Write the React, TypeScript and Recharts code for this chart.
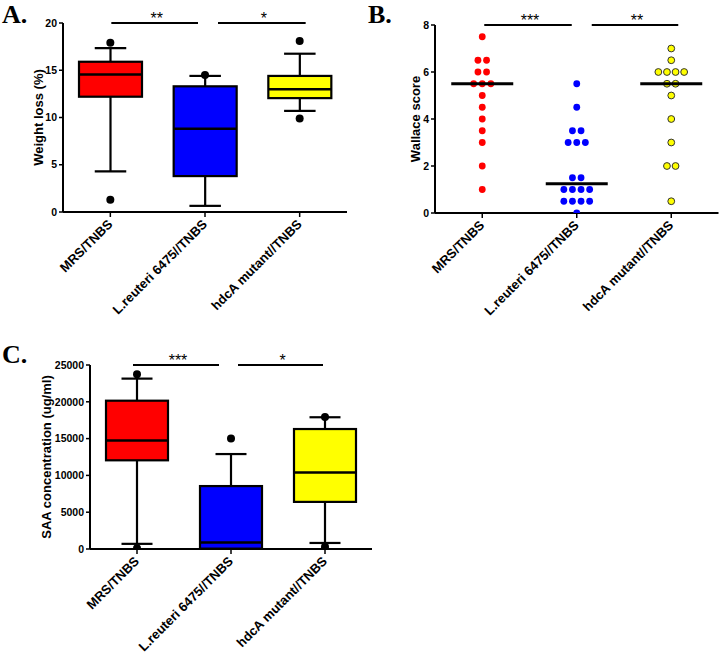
import {
  Bar,
  ComposedChart,
  ReferenceLine,
  Scatter,
  ScatterChart,
  XAxis,
  YAxis,
} from 'recharts';

const SANS = '"Liberation Sans", Arial, sans-serif';
const SERIF = '"Liberation Serif", "Times New Roman", serif';

const groups = ['MRS/TNBS', 'L.reuteri 6475//TNBS', 'hdcA mutant//TNBS'];
const groupColors = ['#ff0000', '#0000ff', '#ffff00'];

// A. weight loss (%) - box plot stats per group
const weightLow = [4.3, 0.65, 10.7];
const weightQ1 = [12.2, 3.8, 12.05];
const weightMedian = [14.55, 8.8, 13.0];
const weightQ3 = [15.9, 13.3, 14.4];
const weightHigh = [17.35, 14.4, 16.75];
const weightOutHigh = [17.9, 14.5, 18.1];
const weightOutLow = [1.3, null, 9.9];
const weightTicks = [0, 5, 10, 15, 20];

// B. Wallace score - individual animals
const wallaceMRS = [7.5, 6.5, 6.5, 6, 6, 5.5, 5.5, 5.5, 5, 4.5, 4, 3.5, 3, 2, 1];
const wallaceReuteri = [5.5, 4.5, 3.5, 3.5, 3, 3, 3, 1.5, 1.5, 1, 1, 1, 1, 0.5, 0.5, 0.5, 0.5, 0];
const wallaceMutant = [7, 6.5, 6, 6, 6, 6, 5.5, 5.5, 5, 4, 3, 2, 2, 0.5];
const wallaceMedians = [5.5, 1.25, 5.5];
const wallaceTicks = [0, 2, 4, 6, 8];

// C. SAA concentration (ug/ml)
const saaLow = [700, 0, 820];
const saaQ1 = [12050, 50, 6400];
const saaMedian = [14750, 900, 10400];
const saaQ3 = [20150, 8550, 16300];
const saaHigh = [23150, 12900, 17900];
const saaOutHigh = [23750, 15000, 17950];
const saaOutLow = [100, null, 300];
const saaTicks = [0, 5000, 10000, 15000, 20000, 25000];

const buildBoxData = (
  low: number[], q1: number[], med: number[], q3: number[], high: number[],
  outHigh: (number | null)[], outLow: (number | null)[],
) =>
  groups.map((name, i) => ({
    name,
    range: [low[i], high[i]],
    low: low[i],
    q1: q1[i],
    median: med[i],
    q3: q3[i],
    high: high[i],
    outHigh: outHigh[i],
    outLow: outLow[i],
    color: groupColors[i],
  }));

const weightData = buildBoxData(weightLow, weightQ1, weightMedian, weightQ3, weightHigh, weightOutHigh, weightOutLow);
const saaData = buildBoxData(saaLow, saaQ1, saaMedian, saaQ3, saaHigh, saaOutHigh, saaOutLow);

// spread tied values sideways like a column scatter
const swarm = (values: number[], gi: number) =>
  values.map((v, i) => {
    const k = values.filter((w) => w === v).length;
    const j = values.slice(0, i).filter((w) => w === v).length;
    return { x: gi, y: v, slot: j - (k - 1) / 2 };
  });

const wallaceSets = [wallaceMRS, wallaceReuteri, wallaceMutant].map((vals, gi) => swarm(vals, gi));
const wallaceMedianData = wallaceMedians.map((m, gi) => ({ x: gi, y: m }));

const BoxShape = (props: any) => {
  const { x, y, width, height, payload } = props;
  const top = Math.min(y, y + height);
  const h = Math.abs(height);
  const toY = (v: number) => top + (h * (payload.high - v)) / (payload.high - payload.low);
  const cx = x + width / 2;
  const cap = width / 4;
  const sw = 2.2;
  return (
    <g>
      <line x1={cx} x2={cx} y1={toY(payload.high)} y2={toY(payload.q3)} stroke="#000" strokeWidth={sw} />
      <line x1={cx} x2={cx} y1={toY(payload.q1)} y2={toY(payload.low)} stroke="#000" strokeWidth={sw} />
      <line x1={cx - cap} x2={cx + cap} y1={toY(payload.high)} y2={toY(payload.high)} stroke="#000" strokeWidth={sw} />
      <line x1={cx - cap} x2={cx + cap} y1={toY(payload.low)} y2={toY(payload.low)} stroke="#000" strokeWidth={sw} />
      <rect
        x={x}
        y={toY(payload.q3)}
        width={width}
        height={toY(payload.q1) - toY(payload.q3)}
        fill={payload.color}
        stroke="#000"
        strokeWidth={sw}
      />
      <line x1={x} x2={x + width} y1={toY(payload.median)} y2={toY(payload.median)} stroke="#000" strokeWidth={2.5} />
    </g>
  );
};

const OutlierDot = (props: any) => {
  const { cx, cy } = props;
  if (cx == null || cy == null || Number.isNaN(cy)) return <g />;
  return <circle cx={cx} cy={cy} r={4} fill="#000" />;
};

const AngledTick = (props: any) => {
  const { x, y, payload, labels } = props;
  const text = labels ? labels[payload.value] : payload.value;
  return (
    <g transform={`translate(${x},${y})`}>
      <text
        x={0}
        y={0}
        transform="translate(3,6) rotate(-45)"
        textAnchor="end"
        style={{ fontSize: 13, fontWeight: 'bold', fontFamily: SANS }}
        fill="#000"
      >
        {text}
      </text>
    </g>
  );
};

const YTitle = (props: any) => {
  const { viewBox, title, titleX } = props;
  const cy = viewBox.y + viewBox.height / 2;
  return (
    <text
      x={titleX}
      y={cy}
      transform={`rotate(-90 ${titleX} ${cy})`}
      textAnchor="middle"
      dominantBaseline="central"
      style={{ fontSize: 13, fontWeight: 'bold', fontFamily: SANS }}
      fill="#000"
    >
      {title}
    </text>
  );
};

const SigLine = (props: any) => {
  const { x1, y1, x2, stars, dx1, dx2 } = props;
  const a = x1 + dx1;
  const b = x2 + dx2;
  return (
    <g>
      <line x1={a} x2={b} y1={y1} y2={y1} stroke="#000" strokeWidth={2} />
      <text
        x={(a + b) / 2 + 2}
        y={y1 + 1}
        textAnchor="middle"
        style={{ fontSize: 16, fontFamily: SANS }}
        fill="#000"
      >
        {stars}
      </text>
    </g>
  );
};

const yTick = { fontSize: 10.5, fontWeight: 'bold', fill: '#000', fontFamily: SANS };
const axisLine = { stroke: '#000', strokeWidth: 2 };
const tickLine = { stroke: '#000', strokeWidth: 1.5 };

const PanelLetter = ({ text, left, top }: { text: string; left: number; top: number }) => (
  <div
    style={{
      position: 'absolute',
      left,
      top,
      fontFamily: SERIF,
      fontWeight: 'bold',
      fontSize: 26,
      lineHeight: '29px',
      color: '#000',
    }}
  >
    {text}
  </div>
);

const BoxPanel = ({ data, domain, ticks, title, titleX, axisWidth, width, height, margin, xHeight, barSize, sig }: any) => (
  <ComposedChart width={width} height={height} data={data} margin={margin}>
    <XAxis
      dataKey="name"
      type="category"
      interval={0}
      height={xHeight}
      tick={<AngledTick />}
      tickSize={5}
      tickMargin={2}
      axisLine={axisLine}
      tickLine={tickLine}
    />
    <YAxis
      type="number"
      domain={domain}
      ticks={ticks}
      interval={0}
      allowDataOverflow
      width={axisWidth}
      tick={yTick}
      tickSize={4}
      tickMargin={2}
      axisLine={axisLine}
      tickLine={tickLine}
      label={<YTitle title={title} titleX={titleX} />}
    />
    <Bar dataKey="range" barSize={barSize} shape={BoxShape} isAnimationActive={false} />
    <Scatter dataKey="outHigh" shape={OutlierDot} isAnimationActive={false} />
    <Scatter dataKey="outLow" shape={OutlierDot} isAnimationActive={false} />
    {sig.map((s: any, i: number) => (
      <ReferenceLine
        key={i}
        segment={[{ x: groups[i], y: domain[1] }, { x: groups[i + 1], y: domain[1] }]}
        ifOverflow="visible"
        shape={(p: any) => <SigLine {...p} stars={s.stars} dx1={s.dx1} dx2={s.dx2} />}
      />
    ))}
  </ComposedChart>
);

const dotColors = [
  { fill: '#ff0000', stroke: 'none' },
  { fill: '#0000ff', stroke: 'none' },
  { fill: '#ffff00', stroke: '#333' },
];

const WallacePanel = () => (
  <ScatterChart width={360} height={330} margin={{ top: 25, right: 1.5, bottom: 0, left: 0 }}>
    <XAxis
      dataKey="x"
      type="number"
      domain={[-0.5, 2.5]}
      ticks={[0, 1, 2]}
      interval={0}
      allowDataOverflow
      height={117}
      tick={<AngledTick labels={groups} />}
      tickSize={5}
      tickMargin={2}
      axisLine={axisLine}
      tickLine={tickLine}
    />
    <YAxis
      dataKey="y"
      type="number"
      domain={[0, 8]}
      ticks={wallaceTicks}
      interval={0}
      allowDataOverflow
      width={75}
      tick={yTick}
      tickSize={4}
      tickMargin={2}
      axisLine={axisLine}
      tickLine={tickLine}
      label={<YTitle title="Wallace score" titleX={55} />}
    />
    {wallaceSets.map((set, gi) => (
      <Scatter
        key={gi}
        data={set}
        isAnimationActive={false}
        shape={(p: any) => (
          <circle
            cx={p.cx + p.payload.slot * 8.6}
            cy={p.cy}
            r={3.4}
            fill={dotColors[gi].fill}
            stroke={dotColors[gi].stroke}
            strokeWidth={1}
          />
        )}
      />
    ))}
    <Scatter
      data={wallaceMedianData}
      isAnimationActive={false}
      shape={(p: any) => (
        <line x1={p.cx - 31} x2={p.cx + 31} y1={p.cy} y2={p.cy} stroke="#000" strokeWidth={3} />
      )}
    />
    <ReferenceLine
      segment={[{ x: 0, y: 8 }, { x: 1, y: 8 }]}
      ifOverflow="visible"
      shape={(p: any) => <SigLine {...p} stars="***" dx1={2} dx2={-5} />}
    />
    <ReferenceLine
      segment={[{ x: 1, y: 8 }, { x: 2, y: 8 }]}
      ifOverflow="visible"
      shape={(p: any) => <SigLine {...p} stars="**" dx1={15} dx2={7} />}
    />
  </ScatterChart>
);

export default function App() {
  return (
    <div style={{ position: 'absolute', left: 0, top: 0, width: 720, height: 657, background: '#fff', overflow: 'hidden' }}>
      <div style={{ position: 'absolute', left: 0, top: 0 }}>
        <BoxPanel
          data={weightData}
          domain={[0, 20]}
          ticks={weightTicks}
          title="Weight loss  (%)"
          titleX={38}
          axisWidth={63}
          width={360}
          height={330}
          margin={{ top: 23, right: 13, bottom: 0, left: 0 }}
          xHeight={118}
          barSize={63}
          sig={[{ stars: '**', dx1: 1, dx2: -7 }, { stars: '*', dx1: 13, dx2: 6 }]}
        />
      </div>
      <div style={{ position: 'absolute', left: 360, top: 0 }}>
        <WallacePanel />
      </div>
      <div style={{ position: 'absolute', left: 0, top: 330 }}>
        <BoxPanel
          data={saaData}
          domain={[0, 25000]}
          ticks={saaTicks}
          title="SAA concentration (ug/ml)"
          titleX={46}
          axisWidth={90}
          width={380}
          height={327}
          margin={{ top: 35, right: 8, bottom: 0, left: 0 }}
          xHeight={108}
          barSize={62}
          sig={[{ stars: '***', dx1: -4, dx2: -12 }, { stars: '*', dx1: 7, dx2: -2 }]}
        />
      </div>
      <PanelLetter text="A." left={2} top={0} />
      <PanelLetter text="B." left={368} top={0} />
      <PanelLetter text="C." left={2} top={340} />
    </div>
  );
}
